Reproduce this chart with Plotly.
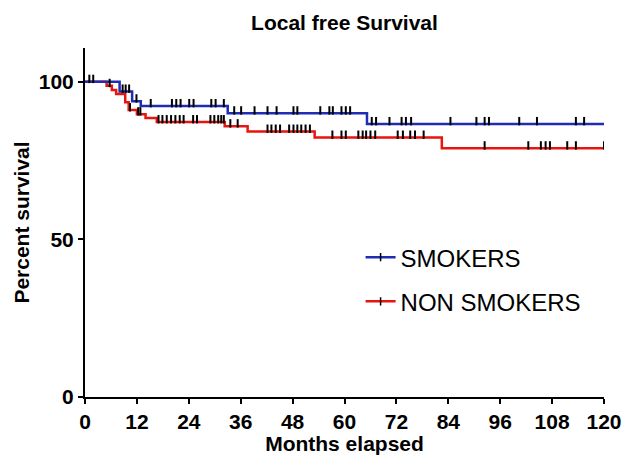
import plotly.graph_objects as go

# Kaplan-Meier step data (months, percent surviving)
smokers_t = [0, 8.0, 10.9, 12.9, 33.0, 65.2, 120]
smokers_s = [100, 96.9, 93.8, 92.3, 90.0, 86.6, 86.6]
smokers_censor = [1.0, 1.9, 8.7, 9.4, 10.2, 11.9, 15.2, 20.1, 21.1, 22.1, 24.1, 25.1,
                  29.2, 30.2, 32.1, 34.5, 36.1, 39.2, 42.2, 44.3, 48.2, 49.1, 54.4,
                  56.5, 57.3, 59.3, 60.3, 61.3, 66.3, 67.3, 70.4, 73.2, 74.2, 75.4,
                  84.5, 90.5, 92.4, 93.4, 100.4, 104.5, 113.5, 115.4]

nonsmokers_t = [0, 5.0, 6.2, 7.2, 9.3, 10.1, 12.0, 14.0, 16.6, 32.3, 37.6, 53.1, 82.5, 120]
nonsmokers_s = [100, 98.7, 97.4, 96.1, 93.5, 91.0, 89.7, 88.5, 87.2, 85.9, 84.2, 82.3, 78.9, 78.9]
nonsmokers_censor = [5.7, 10.4, 12.3, 12.8, 17.0, 17.9, 18.9, 19.9, 20.9, 21.9, 22.8,
                     25.0, 25.9, 29.0, 29.9, 30.8, 31.5, 32.1, 33.6, 35.3, 42.2, 43.1,
                     44.1, 45.1, 47.2, 48.2, 49.1, 50.0, 51.0, 52.0, 57.2, 59.3, 60.3,
                     63.2, 64.2, 65.0, 66.0, 67.1, 72.3, 73.5, 75.2, 76.3, 78.3, 92.4,
                     102.5, 105.4, 106.5, 107.5, 111.5, 113.5, 120.0]

x_ticks = list(range(0, 121, 12))
y_ticks = [0, 50, 100]

BLUE = "#1f2db4"
RED = "#e8150f"
FONT = "Liberation Sans, Arial, sans-serif"


def surv_at(times, surv, t):
    """Survival value of a right-continuous step curve at time t."""
    val = surv[0]
    for ti, si in zip(times, surv):
        if ti <= t:
            val = si
    return val


TICK_LIFT = 0.9  # censor ticks sit on top of the curve

groups = [
    ("SMOKERS", smokers_t, smokers_s, smokers_censor, BLUE),
    ("NON SMOKERS", nonsmokers_t, nonsmokers_s, nonsmokers_censor, RED),
]

fig = go.Figure()
# step curves: non-smokers underneath, smokers on top
for name, t, s, cens, color in reversed(groups):
    fig.add_trace(go.Scatter(x=t, y=s, mode="lines", line=dict(color=color, width=2.5, shape="hv"),
                             showlegend=False, hoverinfo="skip"))
# censored observations as small ticks
for name, t, s, cens, color in groups:
    fig.add_trace(go.Scatter(x=cens, y=[surv_at(t, s, c) + TICK_LIFT for c in cens], mode="markers",
                             marker=dict(symbol="line-ns", size=6, line=dict(color="black", width=2)),
                             showlegend=False, hoverinfo="skip"))
# legend entries
for i, (name, t, s, cens, color) in enumerate(groups):
    fig.add_trace(go.Scatter(x=[None], y=[None], mode="lines+markers", name=name, legendgroup=f"g{i}",
                             line=dict(color=color, width=2.5),
                             marker=dict(symbol="line-ns", size=6, line=dict(color="black", width=1.5))))

fig.update_layout(
    width=623, height=455,
    margin=dict(l=85, r=19, t=48, b=58),
    paper_bgcolor="white", plot_bgcolor="white",
    font=dict(family=FONT, color="black"),
    title=dict(text="Local free Survival", x=0.5, xref="paper", xanchor="center",
               y=1 - 23 / 455, yref="container", yanchor="middle", automargin=False,
               font=dict(size=21, weight="bold", family=FONT, color="black")),
    legend=dict(x=0.531, y=0.464, xanchor="left", yanchor="top", bgcolor="rgba(0,0,0,0)",
                traceorder="grouped", tracegroupgap=10,
                font=dict(size=24, family=FONT, color="black")),
    showlegend=True,
)
fig.update_xaxes(range=[0, 120], tickvals=x_ticks, ticktext=[str(v) for v in x_ticks],
                 automargin=False,
                 showgrid=False, zeroline=False, showline=True, linecolor="black", linewidth=2,
                 ticks="outside", ticklen=5, tickwidth=2, tickcolor="black",
                 tickfont=dict(size=21, weight="bold", family=FONT, color="black"),
                 title=dict(text="Months elapsed", standoff=2,
                            font=dict(size=21, weight="bold", family=FONT, color="black")))
fig.update_yaxes(range=[0, 110.7], tickvals=y_ticks, ticktext=[str(v) for v in y_ticks],
                 automargin=False,
                 showgrid=False, zeroline=False, showline=True, linecolor="black", linewidth=2,
                 ticks="outside", ticklen=5, tickwidth=2, tickcolor="black",
                 tickfont=dict(size=21, weight="bold", family=FONT, color="black"),
                 title=dict(text="Percent survival", standoff=3,
                            font=dict(size=21, weight="bold", family=FONT, color="black")))

fig.write_html("out.html")
